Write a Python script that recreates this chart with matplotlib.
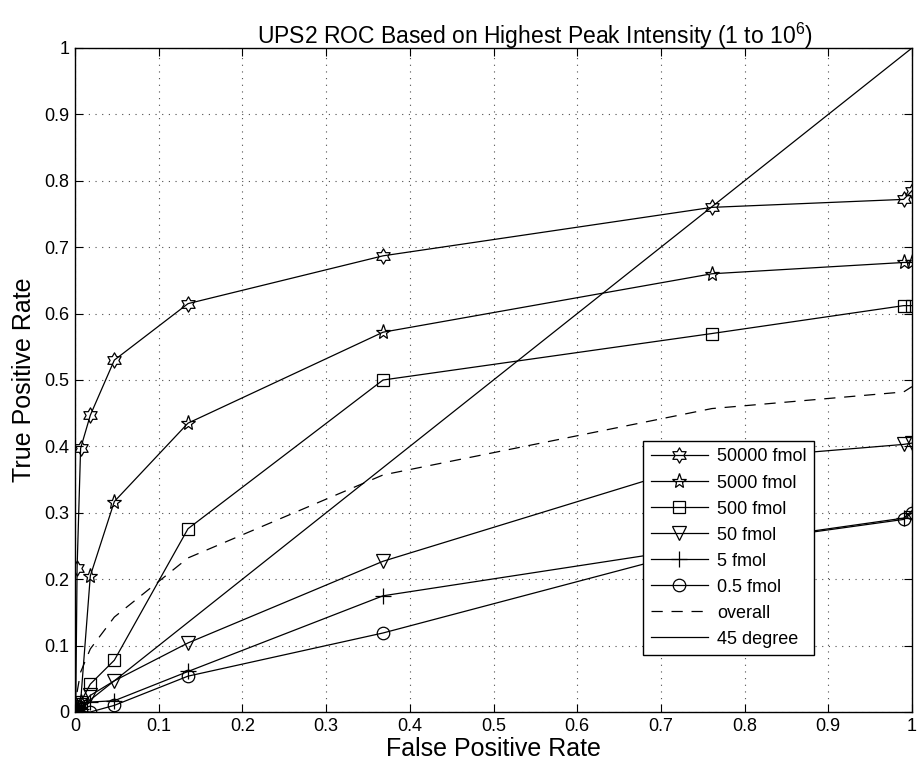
import matplotlib
matplotlib.use("Agg")
import matplotlib.pyplot as plt
from matplotlib.path import Path
import numpy as np

plt.rcParams['font.family'] = ['Liberation Sans', 'DejaVu Sans']
plt.rcParams['mathtext.fontset'] = 'custom'
plt.rcParams['mathtext.rm'] = 'Liberation Sans'
plt.rcParams['mathtext.it'] = 'Liberation Sans'

# shared false positive rates (thresholds)
fpr = [0, 0.0009, 0.0025, 0.0067, 0.0183, 0.047, 0.135, 0.368, 0.761, 0.990, 1.0]

tpr_50000 = [0, 0.010, 0.217, 0.397, 0.447, 0.530, 0.615, 0.687, 0.760, 0.772, 0.785]
tpr_5000 = [0, 0.003, 0.008, 0.015, 0.205, 0.317, 0.435, 0.572, 0.660, 0.677, 0.677]
tpr_500 = [0, 0.002, 0.005, 0.015, 0.042, 0.078, 0.276, 0.500, 0.570, 0.612, 0.612]
tpr_50 = [0, 0.000, 0.003, 0.010, 0.025, 0.047, 0.104, 0.227, 0.379, 0.403, 0.405]
tpr_5 = [0, 0.000, 0.002, 0.005, 0.015, 0.017, 0.061, 0.175, 0.251, 0.292, 0.303]
tpr_05 = [0, 0.000, 0.000, 0.001, 0.000, 0.010, 0.054, 0.119, 0.250, 0.290, 0.300]
tpr_overall = [0, 0.010, 0.030, 0.060, 0.095, 0.143, 0.232, 0.357, 0.457, 0.482, 0.490]

diag_x = [0, 1]
diag_y = [0, 1]

labels = ['50000 fmol', '5000 fmol', '500 fmol', '50 fmol', '5 fmol', '0.5 fmol', 'overall', '45 degree']
ticks = [0, 0.1, 0.2, 0.3, 0.4, 0.5, 0.6, 0.7, 0.8, 0.9, 1]
tick_labels = ['0', '0.1', '0.2', '0.3', '0.4', '0.5', '0.6', '0.7', '0.8', '0.9', '1']

hexagram = Path.unit_regular_star(6, innerCircle=0.577)

fig = plt.figure(figsize=(9.21, 7.70), dpi=100)
ax = fig.add_axes([75/921, 58/770, 837/921, 664/770])

lw = 0.9
common = dict(color='k', lw=lw, markerfacecolor='none', markeredgecolor='k', markeredgewidth=0.9)
ax.plot(fpr, tpr_50000, marker=hexagram, ms=11, label=labels[0], **common)
ax.plot(fpr, tpr_5000, marker='*', ms=11, label=labels[1], **common)
ax.plot(fpr, tpr_500, marker='s', ms=9, label=labels[2], **common)
ax.plot(fpr, tpr_50, marker='v', ms=10, label=labels[3], **common)
ax.plot(fpr, tpr_5, marker='+', ms=11, label=labels[4], **common)
ax.plot(fpr, tpr_05, marker='o', ms=9, label=labels[5], **common)
ax.plot(fpr, tpr_overall, color='k', lw=lw, dashes=(9, 7), label=labels[6])
ax.plot(diag_x, diag_y, color='k', lw=lw, label=labels[7])

ax.set_xlim(0, 1)
ax.set_ylim(0, 1)
ax.set_xticks(ticks)
ax.set_yticks(ticks)
ax.set_xticklabels(tick_labels)
ax.set_yticklabels(tick_labels)
ax.tick_params(direction='in', length=6, width=0.8, top=True, right=True, labelsize=13, pad=4)
ax.grid(True, color='0.3', linestyle=(0, (1, 5)), linewidth=0.8)
for s in ax.spines.values():
    s.set_linewidth(1.0)

ax.set_xlabel('False Positive Rate', fontsize=18, labelpad=2)
ax.set_ylabel('True Positive Rate', fontsize=18, labelpad=6)
ax.set_title('UPS2 ROC Based on Highest Peak Intensity (1 to 10$^{6}$)', fontsize=16.5, pad=3, x=0.55)

leg = ax.legend(loc='lower left', bbox_to_anchor=(0.679, 0.086), fontsize=13, numpoints=1,
                handlelength=3.2, labelspacing=0.5, handletextpad=0.5, borderpad=0.4,
                fancybox=False, framealpha=1, edgecolor='k', borderaxespad=0)
leg.get_frame().set_linewidth(1.0)

fig.savefig('out.png', dpi=100)
